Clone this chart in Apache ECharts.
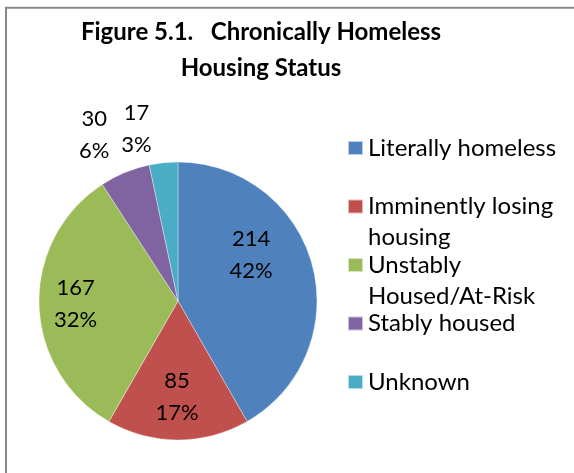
<!DOCTYPE html>
<html>
<head>
<meta charset="utf-8">
<script src="https://cdn.jsdelivr.net/npm/echarts@6/dist/echarts.min.js"></script>
<style>
  html, body { margin: 0; padding: 0; background: #fff; }
  #chart { width: 574px; height: 473px; }
</style>
</head>
<body>
<div id="chart"></div>
<script>
// Housing status of chronically homeless clients
const categories = [
  'Literally homeless',
  'Imminently losing housing',
  'Unstably Housed/At-Risk',
  'Stably housed',
  'Unknown'
];
const counts = [214, 85, 167, 30, 17];
const sliceColors = ['#4F81BD', '#C0504D', '#9BBB59', '#8064A2', '#4BACC6'];
const titleText = 'Figure 5.1.   Chronically Homeless\nHousing Status';
// Legend entries as they wrap in the legend column
const legendLines = [
  ['Literally homeless'],
  ['Imminently losing', 'housing'],
  ['Unstably', 'Housed/At-Risk'],
  ['Stably housed'],
  ['Unknown']
];

// Label nudges (px) from the default inside position of each slice
const labelNudge = [[3, -27], [-1, 23], [-30, 1], [-56, -99], [-34, -100]];

const FONT = 'Lato, "Open Sans", sans-serif';

const chart = echarts.init(document.getElementById('chart'), null, { renderer: 'canvas' });

chart.setOption({
  animation: false,
  backgroundColor: '#fff',
  color: sliceColors,
  graphic: [{
    type: 'rect',
    shape: { x: 6, y: 7.7, width: 800, height: 800 },
    style: { fill: 'none', stroke: '#878787', lineWidth: 2 },
    silent: true,
    z: 100
  }],
  title: {
    text: titleText,
    left: 261,
    top: 14,
    padding: 0,
    textAlign: 'center',
    textStyle: {
      fontFamily: FONT,
      fontWeight: 'bold',
      fontSize: 24,
      lineHeight: 36,
      color: '#000'
    }
  },
  legend: {
    orient: 'vertical',
    left: 347,
    top: 101.5,
    padding: 0,
    itemWidth: 15,
    itemHeight: 14,
    itemGap: -34.5,
    icon: 'rect',
    selectedMode: false,
    data: categories,
    // three text rows per entry: the entry's first row sits level with its swatch
    formatter: function (name) {
      const lines = legendLines[categories.indexOf(name)];
      return '\n' + lines[0] + '\n' + (lines[1] || ' ');
    },
    textStyle: {
      fontFamily: FONT,
      fontSize: 24,
      color: '#000',
      lineHeight: 31
    }
  },
  series: [{
    type: 'pie',
    center: [178, 301],
    radius: 139,
    startAngle: 90,
    clockwise: true,
    percentPrecision: 0,
    avoidLabelOverlap: false,
    itemStyle: { borderColor: 'rgba(255,255,255,0.6)', borderWidth: 0.6 },
    label: {
      show: true,
      position: 'inside',
      formatter: '{c}\n{d}%',
      fontFamily: FONT,
      fontSize: 22,
      lineHeight: 32,
      color: '#000'
    },
    labelLine: { show: false },
    labelLayout: function (p) {
      const n = labelNudge[p.dataIndex];
      return { dx: n[0], dy: n[1] };
    },
    emphasis: { disabled: true },
    data: categories.map(function (name, i) {
      return { name: name, value: counts[i] };
    })
  }]
});
</script>
</body>
</html>
